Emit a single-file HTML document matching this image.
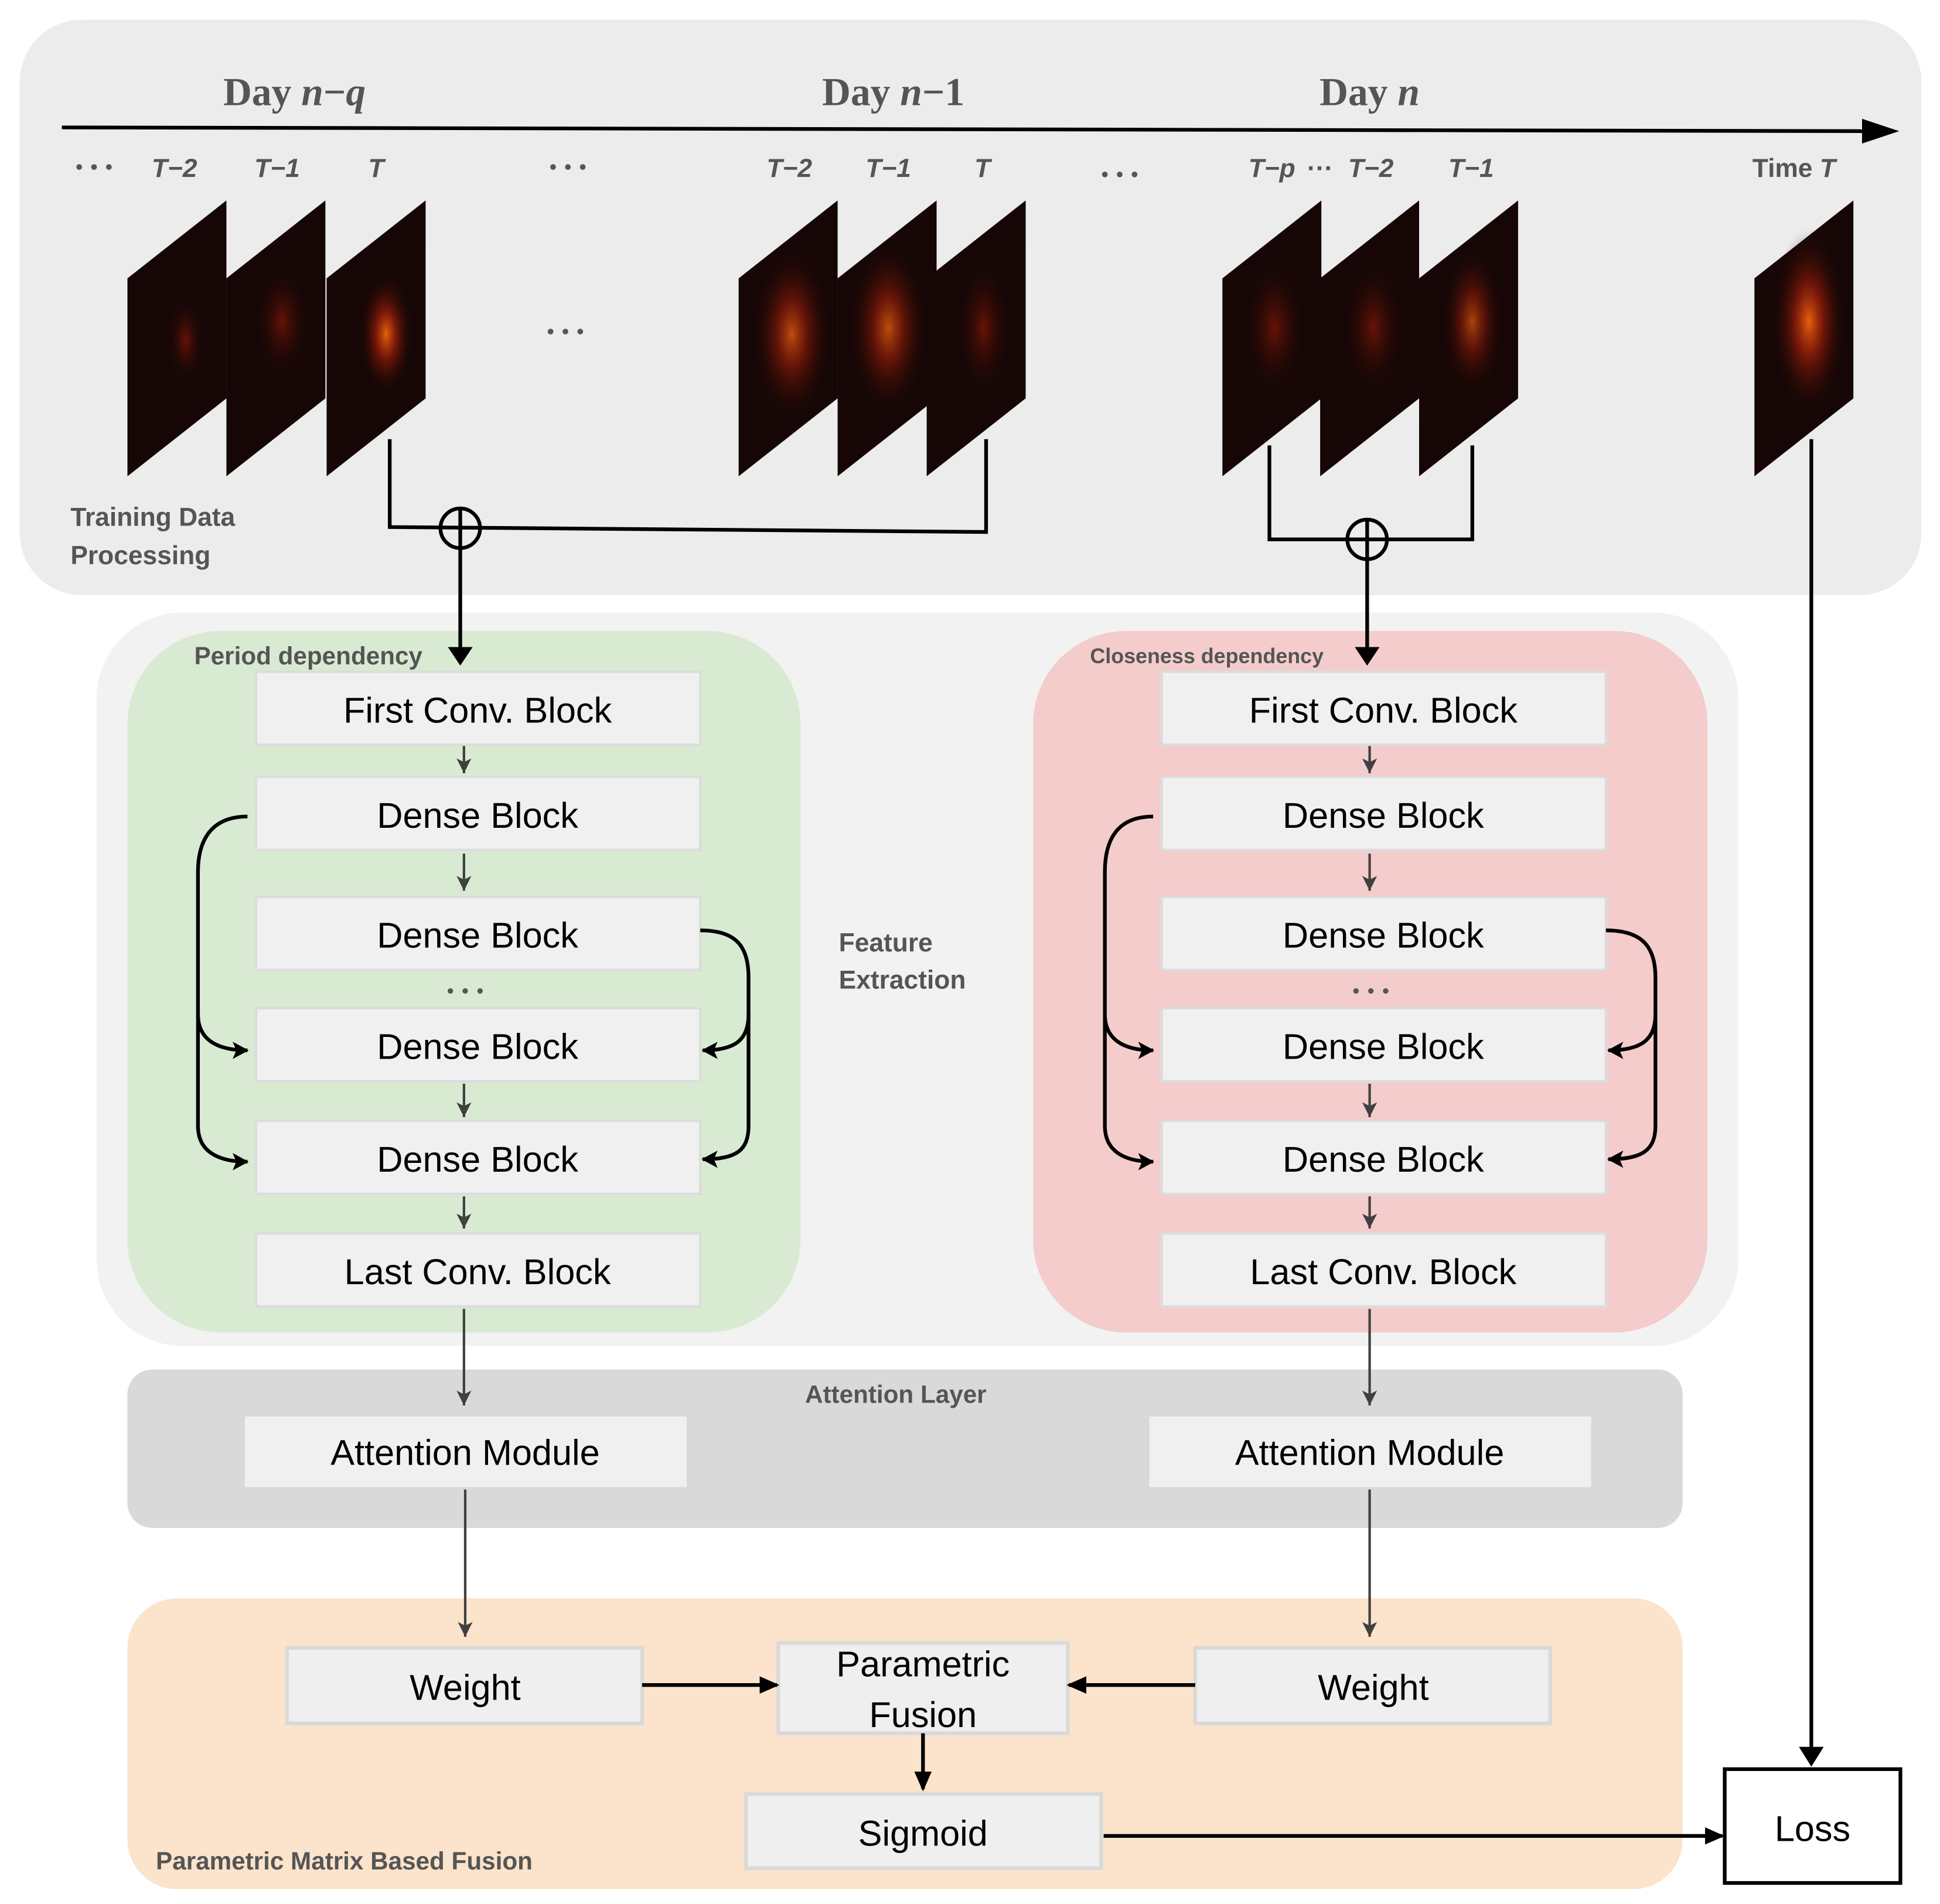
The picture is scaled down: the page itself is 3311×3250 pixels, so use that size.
<!DOCTYPE html>
<html><head><meta charset="utf-8"><style>html,body{margin:0;padding:0;background:#fff}svg{display:block}</style></head>
<body>
<svg width="3311" height="3250" viewBox="0 0 1568 1539" preserveAspectRatio="none" xmlns="http://www.w3.org/2000/svg" font-family="Liberation Sans, sans-serif">
<defs>
<marker id="abig" markerWidth="16" markerHeight="16" refX="14" refY="8" orient="auto" markerUnits="userSpaceOnUse"><path d="M0,1 L16,8 L0,15z" fill="#000"/></marker>
<marker id="ag" markerWidth="14" markerHeight="12" refX="12" refY="6" orient="auto" markerUnits="userSpaceOnUse"><path d="M0,0 L12,6 L0,12 L3,6z" fill="#404040"/></marker>
<marker id="ak" markerWidth="14" markerHeight="14" refX="12" refY="7" orient="auto" markerUnits="userSpaceOnUse"><path d="M0,0 L13,7 L0,14 L3,7z" fill="#000"/></marker>
<radialGradient id="h1" cx="0.5" cy="0.5" r="0.5"><stop offset="0" stop-color="#ff6a10" stop-opacity="0.9"/><stop offset="0.4" stop-color="#b0200a" stop-opacity="0.6"/><stop offset="1" stop-color="#1a0605" stop-opacity="0"/></radialGradient>
<radialGradient id="h2" cx="0.5" cy="0.5" r="0.5"><stop offset="0" stop-color="#a01a08" stop-opacity="0.6"/><stop offset="1" stop-color="#1a0605" stop-opacity="0"/></radialGradient>
<g id="panel"><path d="M0,63 L80,0 L80,160 L0,223z" fill="#160706"/></g>
</defs>

<rect x="16" y="16" width="1537" height="465" rx="50" fill="#ececec"/>
<text x="238" y="85" font-family="Liberation Serif, serif" font-size="32" font-weight="bold" fill="#555" text-anchor="middle">Day <tspan font-style="italic">n</tspan>−<tspan font-style="italic">q</tspan></text>
<text x="722" y="85" font-family="Liberation Serif, serif" font-size="32" font-weight="bold" fill="#555" text-anchor="middle">Day <tspan font-style="italic">n</tspan>−1</text>
<text x="1107" y="85" font-family="Liberation Serif, serif" font-size="32" font-weight="bold" fill="#555" text-anchor="middle">Day <tspan font-style="italic">n</tspan></text>
<line x1="50" y1="103" x2="1505" y2="106" stroke="#000" stroke-width="3"/>
<path d="M1505,96 L1535,106 L1505,116z" fill="#000"/>

<g font-size="21" font-weight="bold" fill="#555" font-style="italic" text-anchor="middle">
<text x="141" y="143">T−2</text><text x="224" y="143">T−1</text><text x="304" y="143">T</text>
<text x="638" y="143">T−2</text><text x="718" y="143">T−1</text><text x="794" y="143">T</text>
<text x="1028" y="143">T−p</text><text x="1067" y="143" font-style="normal">···</text><text x="1108" y="143">T−2</text><text x="1189" y="143">T−1</text>
<text x="1450" y="143" font-style="normal">Time <tspan font-style="italic">T</tspan></text>
</g>
<g fill="#555">
<circle cx="64" cy="135" r="2.3"/><circle cx="76" cy="135" r="2.3"/><circle cx="88" cy="135" r="2.3"/>
<circle cx="447" cy="135" r="2.3"/><circle cx="459" cy="135" r="2.3"/><circle cx="471" cy="135" r="2.3"/>
<circle cx="893" cy="141" r="2.3"/><circle cx="905" cy="141" r="2.3"/><circle cx="917" cy="141" r="2.3"/>
<circle cx="445" cy="268" r="2.3"/><circle cx="457" cy="268" r="2.3"/><circle cx="469" cy="268" r="2.3"/>
</g>

<g>
<use href="#panel" x="103" y="162"/><use href="#panel" x="183" y="162"/><use href="#panel" x="264" y="162"/>
<ellipse cx="150" cy="275" rx="15" ry="35" fill="url(#h2)"/>
<ellipse cx="228" cy="260" rx="22" ry="45" fill="url(#h2)"/>
<ellipse cx="312" cy="270" rx="22" ry="50" fill="url(#h1)"/>
<use href="#panel" x="597" y="162"/><use href="#panel" x="677" y="162"/><use href="#panel" x="749" y="162"/>
<ellipse cx="640" cy="270" rx="32" ry="70" fill="url(#h1)" opacity="0.8"/>
<ellipse cx="718" cy="265" rx="32" ry="70" fill="url(#h1)" opacity="0.8"/>
<ellipse cx="795" cy="265" rx="22" ry="55" fill="url(#h2)"/>
<use href="#panel" x="988" y="162"/><use href="#panel" x="1067" y="162"/><use href="#panel" x="1147" y="162"/>
<ellipse cx="1030" cy="265" rx="25" ry="55" fill="url(#h2)"/>
<ellipse cx="1110" cy="265" rx="25" ry="55" fill="url(#h2)"/>
<ellipse cx="1190" cy="260" rx="25" ry="60" fill="url(#h1)" opacity="0.7"/>
<use href="#panel" x="1418" y="162"/>
<ellipse cx="1462" cy="260" rx="30" ry="75" fill="url(#h1)"/>
</g>

<text x="57" y="425" font-size="21" font-weight="bold" fill="#555">Training Data</text>
<text x="57" y="456" font-size="21" font-weight="bold" fill="#555">Processing</text>

<polyline points="315,355 315,426 797,430 797,355" fill="none" stroke="#000" stroke-width="3"/>
<circle cx="372" cy="427" r="16" fill="none" stroke="#000" stroke-width="3"/>
<line x1="372" y1="411" x2="372" y2="443" stroke="#000" stroke-width="3"/>
<polyline points="1026,360 1026,436 1190,436 1190,360" fill="none" stroke="#000" stroke-width="3"/>
<circle cx="1105" cy="436" r="16" fill="none" stroke="#000" stroke-width="3"/>
<line x1="1105" y1="420" x2="1105" y2="452" stroke="#000" stroke-width="3"/>
<line x1="1464" y1="355" x2="1464" y2="1415" stroke="#000" stroke-width="3"/>
<path d="M1454,1412 L1474,1412 L1464,1428z" fill="#000"/>

<rect x="78" y="495" width="1327" height="593" rx="70" fill="#f2f2f2"/>
<rect x="103" y="510" width="544" height="567" rx="75" fill="#d9ead3"/>
<rect x="835" y="510" width="545" height="567" rx="75" fill="#f4cccc"/>
<line x1="372" y1="443" x2="372" y2="525" stroke="#000" stroke-width="3"/>
<line x1="1105" y1="452" x2="1105" y2="525" stroke="#000" stroke-width="3"/>
<path d="M362,523 L382,523 L372,538z" fill="#000"/>
<path d="M1095,523 L1115,523 L1105,538z" fill="#000"/>
<text x="157" y="537" font-size="20" font-weight="bold" fill="#555">Period dependency</text>
<text x="881" y="536" font-size="17" font-weight="bold" fill="#555">Closeness dependency</text>
<text x="678" y="769" font-size="21" font-weight="bold" fill="#555">Feature</text>
<text x="678" y="799" font-size="21" font-weight="bold" fill="#555">Extraction</text>
<g fill="#555">
<circle cx="364" cy="801" r="2.2"/><circle cx="376" cy="801" r="2.2"/><circle cx="388" cy="801" r="2.2"/>
<circle cx="1096" cy="801" r="2.2"/><circle cx="1108" cy="801" r="2.2"/><circle cx="1120" cy="801" r="2.2"/>
</g>

<g font-size="29" text-anchor="middle" fill="#000">
<g stroke="#dcdcdc" stroke-width="2" fill="#f0f0f0">
<rect x="207" y="543" width="359" height="59"/><rect x="207" y="628" width="359" height="59"/><rect x="207" y="725" width="359" height="59"/>
<rect x="207" y="815" width="359" height="59"/><rect x="207" y="906" width="359" height="59"/><rect x="207" y="997" width="359" height="59"/>
<rect x="939" y="543" width="359" height="59"/><rect x="939" y="628" width="359" height="59"/><rect x="939" y="725" width="359" height="59"/>
<rect x="939" y="815" width="359" height="59"/><rect x="939" y="906" width="359" height="59"/><rect x="939" y="997" width="359" height="59"/>
</g>
<text x="386" y="584">First Conv. Block</text><text x="386" y="669">Dense Block</text><text x="386" y="766">Dense Block</text>
<text x="386" y="856">Dense Block</text><text x="386" y="947">Dense Block</text><text x="386" y="1038">Last Conv. Block</text>
<text x="1118" y="584">First Conv. Block</text><text x="1118" y="669">Dense Block</text><text x="1118" y="766">Dense Block</text>
<text x="1118" y="856">Dense Block</text><text x="1118" y="947">Dense Block</text><text x="1118" y="1038">Last Conv. Block</text>
</g>

<g stroke="#404040" stroke-width="2" marker-end="url(#ag)">
<line x1="375" y1="603" x2="375" y2="625"/><line x1="375" y1="690" x2="375" y2="720"/><line x1="375" y1="876" x2="375" y2="903"/><line x1="375" y1="967" x2="375" y2="993"/>
<line x1="1107" y1="603" x2="1107" y2="625"/><line x1="1107" y1="690" x2="1107" y2="720"/><line x1="1107" y1="876" x2="1107" y2="903"/><line x1="1107" y1="967" x2="1107" y2="993"/>
</g>

<g fill="none" stroke="#000" stroke-width="3" marker-end="url(#ak)">
<path d="M200,660 C170,660 160,680 160,705 L160,820 C160,840 175,849 200,849"/>
<path d="M160,820 L160,910 C160,930 175,939 200,939"/>
<path d="M566,752 C595,752 605,765 605,790 L605,820 C605,840 595,849 568,849"/>
<path d="M605,820 L605,910 C605,930 595,937 568,937"/>
<path d="M932,660 C902,660 893,680 893,705 L893,820 C893,840 908,849 932,849"/>
<path d="M893,820 L893,910 C893,930 908,939 932,939"/>
<path d="M1298,752 C1327,752 1338,765 1338,790 L1338,820 C1338,840 1327,849 1300,849"/>
<path d="M1338,820 L1338,910 C1338,930 1327,937 1300,937"/>
</g>

<rect x="103" y="1107" width="1257" height="128" rx="20" fill="#d9d9d9"/>
<g stroke="#404040" stroke-width="2" marker-end="url(#ag)"><line x1="375" y1="1058" x2="375" y2="1136"/><line x1="1107" y1="1058" x2="1107" y2="1136"/></g>
<text x="724" y="1134" font-size="20" font-weight="bold" fill="#555" text-anchor="middle">Attention Layer</text>
<rect x="198" y="1145" width="357" height="57" fill="#f0f0f0"/>
<rect x="929" y="1145" width="357" height="57" fill="#f0f0f0"/>
<text x="376" y="1184" font-size="29" text-anchor="middle">Attention Module</text>
<text x="1107" y="1184" font-size="29" text-anchor="middle">Attention Module</text>

<rect x="103" y="1292" width="1257" height="235" rx="40" fill="#fbe3cc"/>
<g stroke="#404040" stroke-width="2" marker-end="url(#ag)"><line x1="376" y1="1204" x2="376" y2="1323"/><line x1="1107" y1="1204" x2="1107" y2="1323"/></g>
<g stroke="#d9d9d9" stroke-width="3" fill="#efefef">
<rect x="232" y="1332" width="287" height="61"/><rect x="629" y="1328" width="234" height="73"/><rect x="966" y="1332" width="287" height="61"/><rect x="603" y="1450" width="287" height="60"/>
</g>
<g font-size="29" text-anchor="middle">
<text x="376" y="1374">Weight</text><text x="1110" y="1374">Weight</text>
<text x="746" y="1355">Parametric</text><text x="746" y="1396">Fusion</text>
<text x="746" y="1492">Sigmoid</text>
</g>
<g stroke="#000" stroke-width="3" fill="none" marker-end="url(#abig)">
<line x1="519" y1="1362" x2="628" y2="1362"/>
<line x1="966" y1="1362" x2="864" y2="1362"/>
<line x1="746" y1="1401" x2="746" y2="1446"/>
<line x1="892" y1="1484" x2="1392" y2="1484"/>
</g>
<text x="126" y="1511" font-size="20" font-weight="bold" fill="#555">Parametric Matrix Based Fusion</text>
<rect x="1394" y="1430" width="142" height="92" fill="#fff" stroke="#000" stroke-width="3"/>
<text x="1465" y="1488" font-size="29" text-anchor="middle">Loss</text>
</svg>
</body></html>
